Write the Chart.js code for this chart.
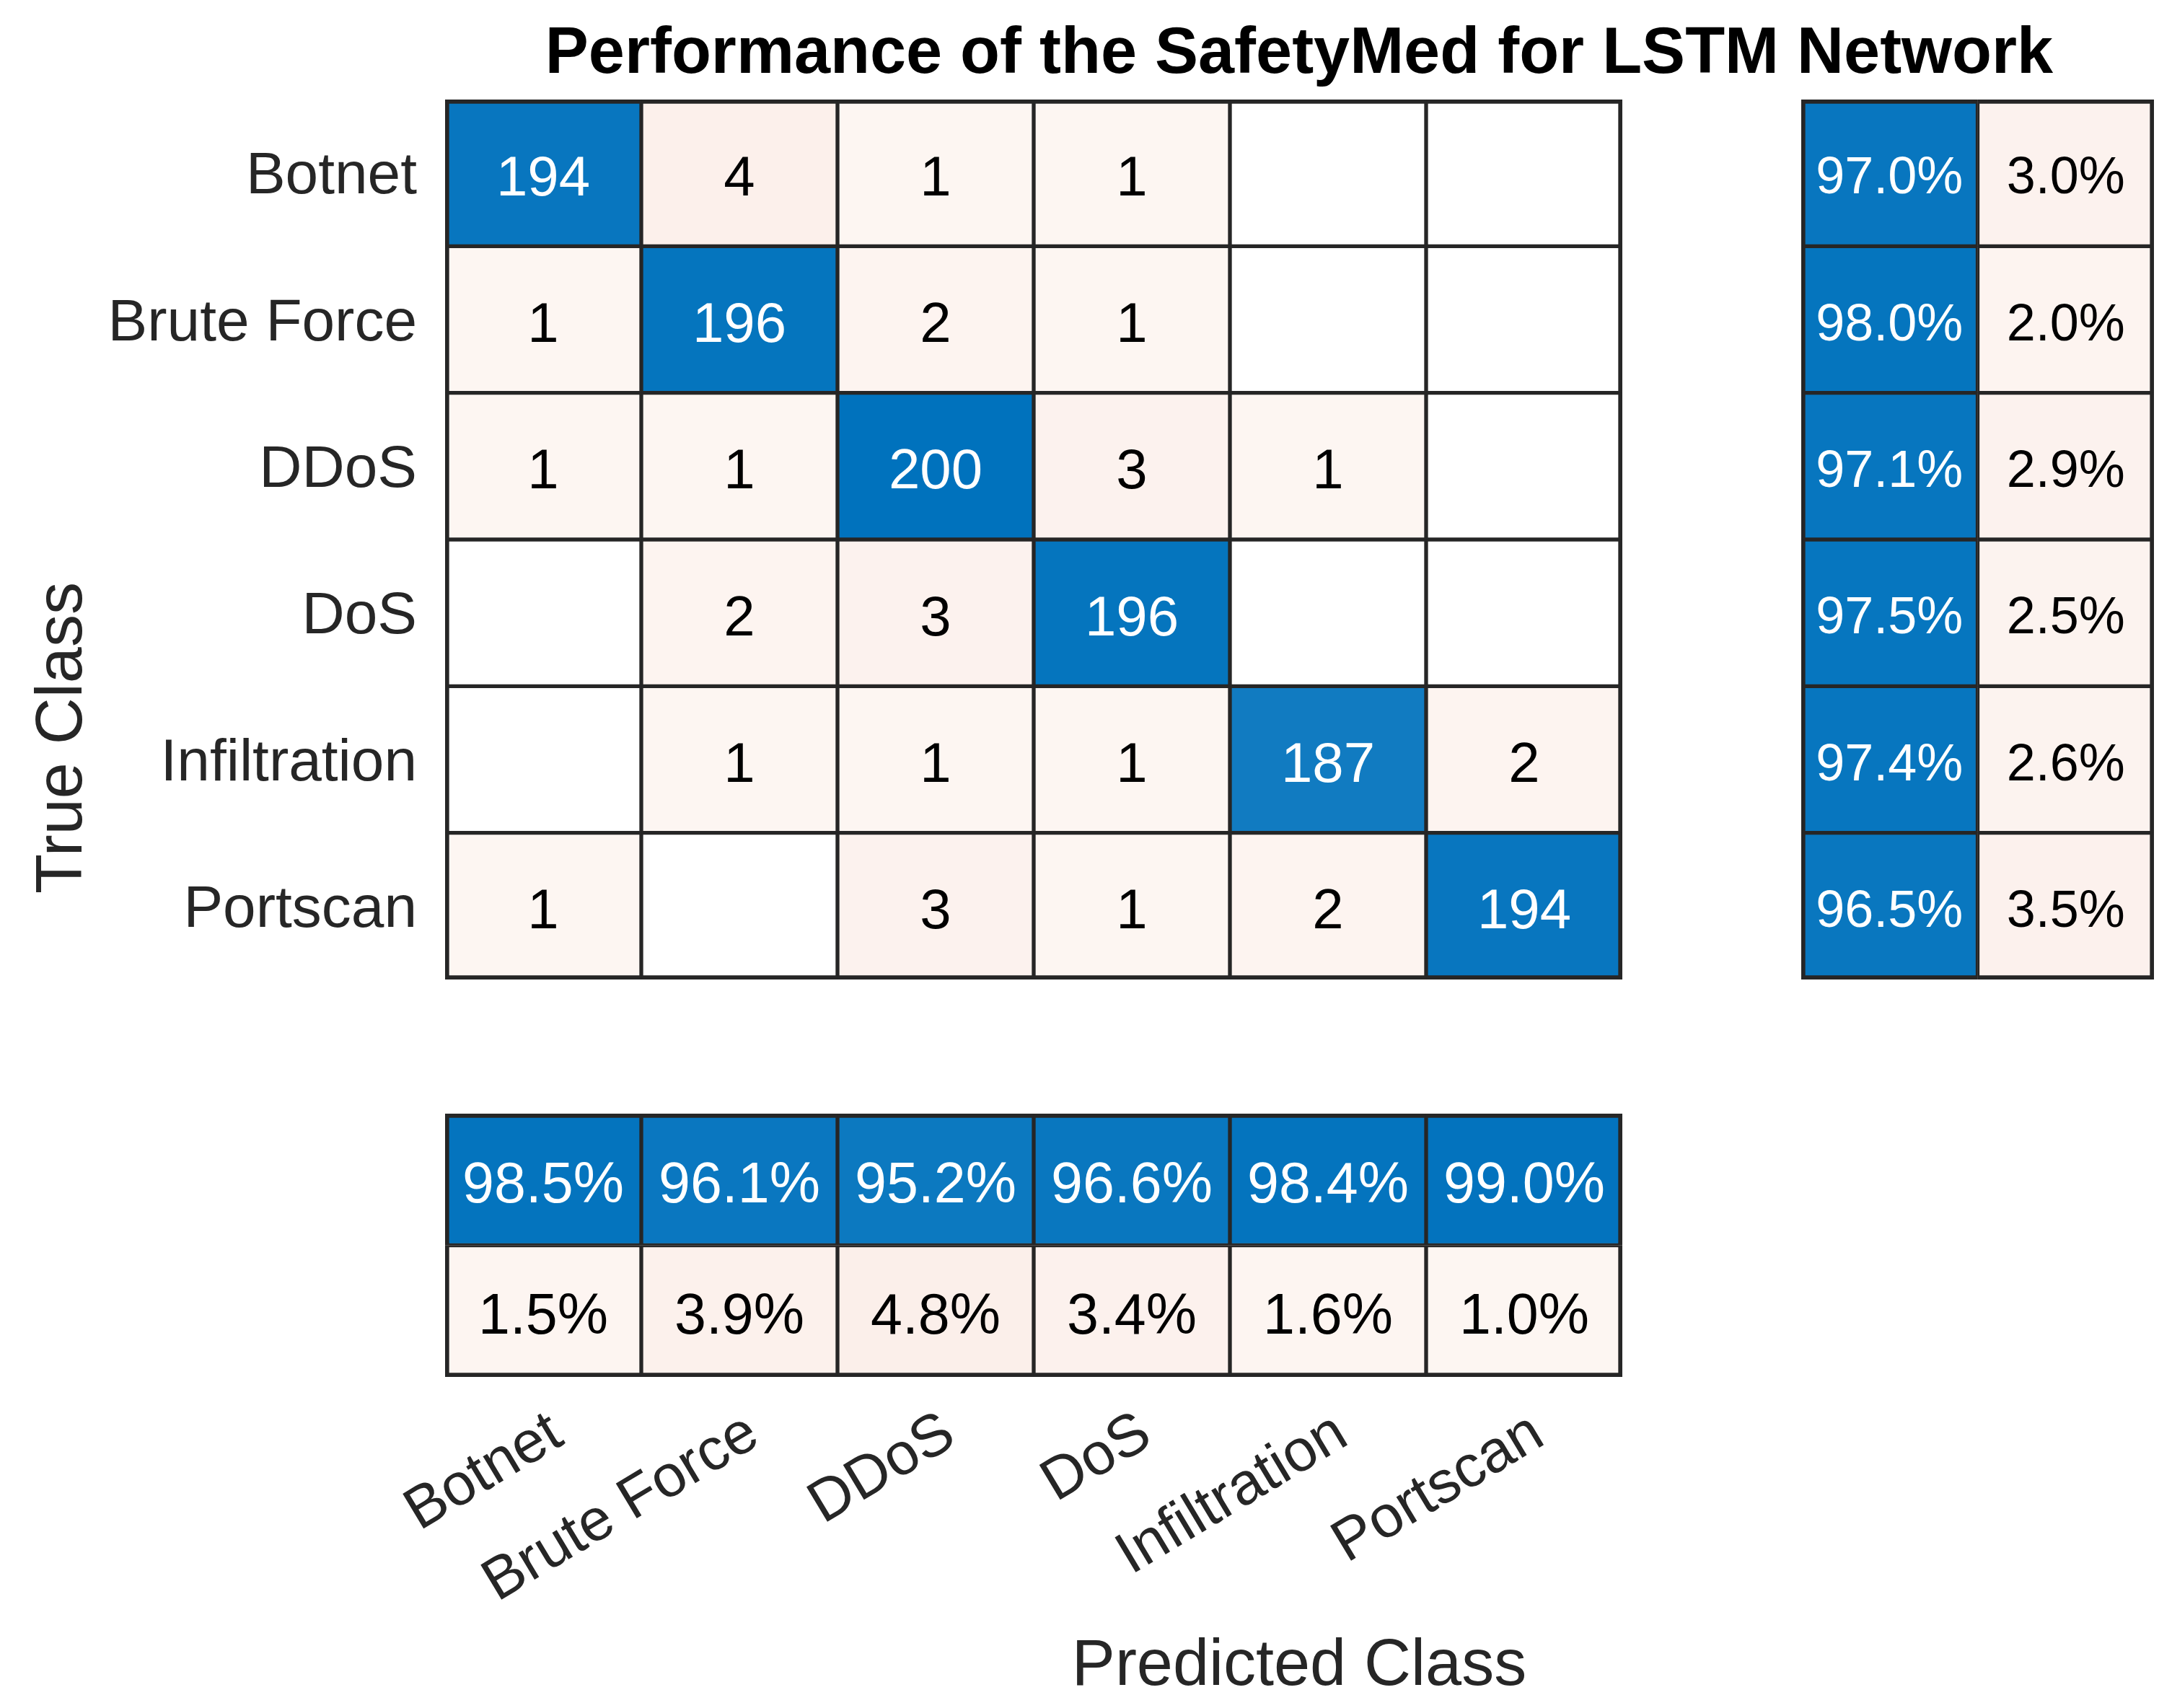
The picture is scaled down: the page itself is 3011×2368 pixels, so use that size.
<!DOCTYPE html>
<html><head><meta charset="utf-8">
<script src="https://cdn.jsdelivr.net/npm/chart.js@4.4.1/dist/chart.umd.min.js"></script>
<style>
html,body{margin:0;padding:0;background:#fff;width:3011px;height:2368px;overflow:hidden;position:relative;font-family:'Liberation Sans',Arial,Helvetica,sans-serif;}
canvas{position:absolute;}
.lbl{position:absolute;white-space:nowrap;line-height:1;color:#262626;}
</style></head><body>
<div id="title" class="lbl" style="font-weight:bold;font-size:90px;left:1801px;top:70px;transform:translate(-50%,-50%);color:#000">Performance of the SafetyMed for LSTM Network</div>
<div id="ylab" class="lbl" style="font-size:90px;left:82px;top:1023px;transform:translate(-50%,-50%) rotate(-90deg)">True Class</div>
<div id="xlab" class="lbl" style="font-size:90px;left:1801px;top:2305px;transform:translate(-50%,-50%)">Predicted Class</div>
<canvas id="cMain" width="2300" height="1458" style="left:0;top:0"></canvas>
<canvas id="cRight" width="611" height="1458" style="left:2400px;top:0"></canvas>
<canvas id="cBottom" width="2300" height="868" style="left:0;top:1500px"></canvas>
<script>
// ---------- data ----------
const classes = ['Botnet', 'Brute Force', 'DDoS', 'DoS', 'Infiltration', 'Portscan'];
// rows = true class, columns = predicted class
const countsBotnet      = [194, 4, 1, 1, 0, 0];
const countsBruteForce  = [1, 196, 2, 1, 0, 0];
const countsDDoS        = [1, 1, 200, 3, 1, 0];
const countsDoS         = [0, 2, 3, 196, 0, 0];
const countsInfiltration= [0, 1, 1, 1, 187, 2];
const countsPortscan    = [1, 0, 3, 1, 2, 194];
const counts = [countsBotnet, countsBruteForce, countsDDoS, countsDoS, countsInfiltration, countsPortscan];
// row summary (per true class)
const rowCorrectPct   = [97.0, 98.0, 97.1, 97.5, 97.4, 96.5];
const rowIncorrectPct = [3.0, 2.0, 2.9, 2.5, 2.6, 3.5];
// column summary (per predicted class)
const colCorrectPct   = [98.5, 96.1, 95.2, 96.6, 98.4, 99.0];
const colIncorrectPct = [1.5, 3.9, 4.8, 3.4, 1.6, 1.0];

// ---------- styling ----------
const FONT = "'Liberation Sans', Arial, Helvetica, sans-serif";
const BLUE = [0, 114, 189], ORANGE = [217, 83, 25];
const LINE = '#262626', OUT = 6, IN = 3;
function mix(c, a) {
  a = Math.max(0, Math.min(1, a));
  return 'rgb(' + c.map(v => Math.round(255 - (255 - v) * a)).join(',') + ')';
}
const maxCount = Math.max(...counts.flat());
function countColor(v, diag) {
  if (!v) return '#ffffff';
  return diag ? mix(BLUE, v / maxCount) : mix(ORANGE, 0.045 + 0.01 * v);
}
function borderFor(r, c, nR, nC) {
  return { top: r === 0 ? OUT : IN, bottom: r === nR - 1 ? OUT : IN,
           left: c === 0 ? OUT : IN, right: c === nC - 1 ? OUT : IN };
}
const pct = v => v.toFixed(1) + '%';

const cellTextPlugin = {
  id: 'cellText',
  afterDatasetsDraw(chart, args, opts) {
    const ctx = chart.ctx;
    ctx.save();
    ctx.textAlign = 'center';
    ctx.textBaseline = 'alphabetic';
    ctx.font = opts.size + 'px ' + FONT;
    chart.data.datasets.forEach((ds, di) => {
      const meta = chart.getDatasetMeta(di);
      meta.data.forEach((el, k) => {
        const t = ds.texts[k];
        if (!t) return;
        const p = el.getCenterPoint();
        ctx.fillStyle = ds.textColors[k];
        ctx.fillText(t, p.x, p.y + opts.size * 0.358 + 3);
      });
    });
    ctx.restore();
  }
};
Chart.register(cellTextPlugin);

const common = {
  responsive: false, animation: false, devicePixelRatio: 1,
  events: [],
};
const barCommon = { borderColor: LINE, borderSkipped: false, grouped: false,
  barPercentage: 1, categoryPercentage: 1 };

// ---------- main matrix ----------
new Chart(document.getElementById('cMain'), {
  type: 'bar',
  data: {
    labels: classes,
    datasets: classes.map((_, j) => Object.assign({
      data: classes.map(() => [j, j + 1]),
      backgroundColor: classes.map((_, i) => countColor(counts[i][j], i === j)),
      borderWidth: classes.map((_, i) => borderFor(i, j, classes.length, classes.length)),
      texts: counts.map(r => r[j] ? String(r[j]) : ''),
      textColors: classes.map((_, i) => i === j ? '#ffffff' : '#000000'),
    }, barCommon))
  },
  options: Object.assign({}, common, {
    indexAxis: 'y',
    layout: { padding: { left: 0, top: 138, right: 51, bottom: 100 } },
    plugins: { legend: { display: false }, tooltip: { enabled: false },
      cellText: { size: 78 } },
    scales: {
      x: { type: 'linear', min: 0, max: classes.length, display: false },
      y: { type: 'category', grid: { display: false, drawTicks: false },
        border: { display: false },
        ticks: { font: { size: 82, family: FONT }, color: '#262626', padding: 39, labelOffset: 6 },
        afterFit(s) { s.width = 617; } }
    }
  })
});

// ---------- row summary (right) ----------
const rowCols = [rowCorrectPct, rowIncorrectPct];
new Chart(document.getElementById('cRight'), {
  type: 'bar',
  data: {
    labels: classes,
    datasets: rowCols.map((vals, j) => Object.assign({
      data: classes.map(() => [j, j + 1]),
      backgroundColor: vals.map(v => j === 0 ? mix(BLUE, v / 100) : mix(ORANGE, 0.045 + v / 100)),
      borderWidth: classes.map((_, i) => borderFor(i, j, classes.length, 2)),
      texts: vals.map(pct),
      textColors: vals.map(() => j === 0 ? '#ffffff' : '#000000'),
    }, barCommon))
  },
  options: Object.assign({}, common, {
    indexAxis: 'y',
    layout: { padding: { left: 97, top: 138, right: 25, bottom: 100 } },
    plugins: { legend: { display: false }, tooltip: { enabled: false },
      cellText: { size: 72 } },
    scales: {
      x: { type: 'linear', min: 0, max: 2, display: false },
      y: { type: 'category', display: false }
    }
  })
});

// ---------- column summary (bottom) ----------
const colRows = [colCorrectPct, colIncorrectPct];
new Chart(document.getElementById('cBottom'), {
  type: 'bar',
  data: {
    labels: classes,
    datasets: colRows.map((vals, r) => Object.assign({
      data: classes.map(() => [r, r + 1]),
      backgroundColor: vals.map(v => r === 0 ? mix(BLUE, v / 100) : mix(ORANGE, 0.045 + v / 100)),
      borderWidth: classes.map((_, c) => borderFor(r, c, 2, classes.length)),
      texts: vals.map(pct),
      textColors: vals.map(() => r === 0 ? '#ffffff' : '#000000'),
    }, barCommon))
  },
  options: Object.assign({}, common, {
    indexAxis: 'x',
    layout: { padding: { left: 617, top: 44, right: 51, bottom: 0 } },
    plugins: { legend: { display: false }, tooltip: { enabled: false },
      cellText: { size: 79 } },
    scales: {
      y: { type: 'linear', min: 0, max: 2, reverse: true, display: false },
      x: { type: 'category', grid: { display: false, drawTicks: false },
        border: { display: false },
        ticks: { font: { size: 82, family: FONT }, color: '#262626', padding: 30,
          labelOffset: 20, minRotation: 31, maxRotation: 31 },
        afterFit(s) { s.height = 459; } }
    }
  })
});
</script>
</body></html>
